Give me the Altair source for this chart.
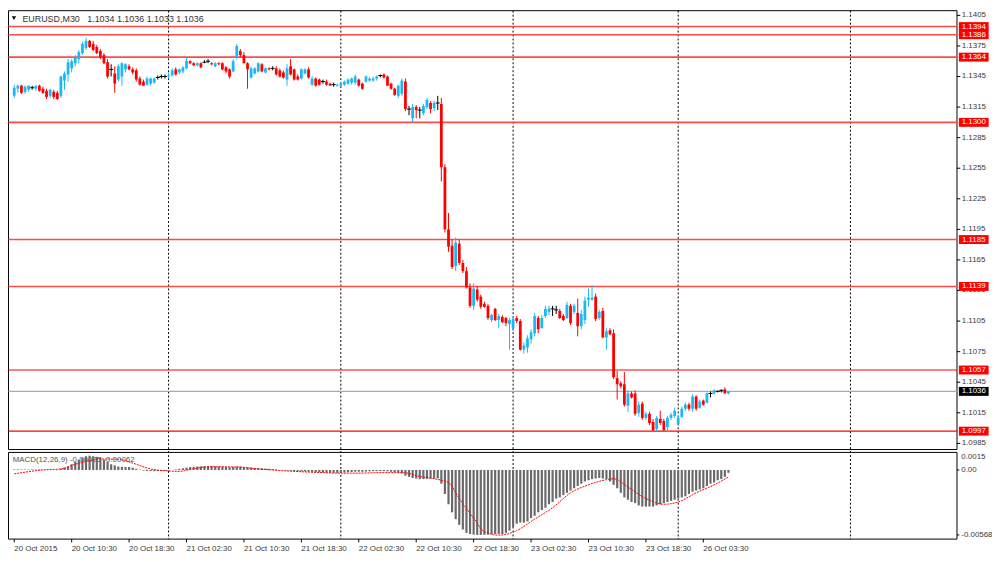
import altair as alt
import pandas as pd

# ---------------- data ----------------
OPEN = [
    1.1326, 1.1333, 1.1336, 1.1330, 1.1332, 1.1334, 1.1333, 1.1336, 1.1333, 1.1331,
    1.1326, 1.1330, 1.1329, 1.1326, 1.1341, 1.1347, 1.1353, 1.1358, 1.1362, 1.1368,
    1.1373, 1.1380, 1.1377, 1.1374, 1.1370, 1.1366, 1.1359, 1.1352, 1.1348, 1.1342,
    1.1345, 1.1352, 1.1355, 1.1352, 1.1351, 1.1343, 1.1340, 1.1337, 1.1338, 1.1339,
    1.1344, 1.1345, 1.1345, 1.1345, 1.1346, 1.1352, 1.1349, 1.1350, 1.1353, 1.1360,
    1.1358, 1.1356, 1.1358, 1.1359, 1.1360, 1.1358, 1.1355, 1.1358, 1.1358, 1.1354,
    1.1352, 1.1350, 1.1364, 1.1370, 1.1366, 1.1358, 1.1344, 1.1348, 1.1350, 1.1357,
    1.1349, 1.1353, 1.1353, 1.1353, 1.1351, 1.1349, 1.1342, 1.1355, 1.1352, 1.1345,
    1.1343, 1.1348, 1.1352, 1.1337, 1.1343, 1.1342, 1.1340, 1.1340, 1.1338, 1.1337,
    1.1336, 1.1336, 1.1337, 1.1338, 1.1339, 1.1339, 1.1342, 1.1338, 1.1340, 1.1341,
    1.1341, 1.1343, 1.1346, 1.1347, 1.1345, 1.1338, 1.1333, 1.1326, 1.1328, 1.1340,
    1.1313, 1.1304, 1.1315, 1.1312, 1.1309, 1.1315, 1.1319, 1.1314, 1.1319, 1.1318,
    1.1256, 1.1195, 1.1179, 1.1159, 1.1181, 1.1162, 1.1154, 1.1138, 1.1120, 1.1136,
    1.1129, 1.1122, 1.1120, 1.1106, 1.1117, 1.1106, 1.1109, 1.1108, 1.1102, 1.1098,
    1.1108, 1.1105, 1.1077, 1.1079, 1.1087, 1.1093, 1.1108, 1.1098, 1.1110, 1.1114,
    1.1117, 1.1116, 1.1115, 1.1110, 1.1108, 1.1120, 1.1114, 1.1113, 1.1100, 1.1106,
    1.1126, 1.1126, 1.1129, 1.1108, 1.1115, 1.1089, 1.1096, 1.1093, 1.1049, 1.1044,
    1.1043, 1.1022, 1.1034, 1.1034, 1.1015, 1.1024, 1.1010, 1.1014, 1.1006, 1.0999,
    1.1009, 1.1007, 1.1001, 1.1010, 1.1012, 1.1004, 1.1011, 1.1019, 1.1023, 1.1019,
    1.1031, 1.1020, 1.1027, 1.1025, 1.1034, 1.1034, 1.1036, 1.1037, 1.1038, 1.1034,
]
HIGH = [
    1.1337, 1.1337, 1.1337, 1.1336, 1.1336, 1.1336, 1.1336, 1.1337, 1.1335, 1.1333,
    1.1333, 1.1332, 1.1331, 1.1346, 1.1350, 1.1362, 1.1362, 1.1366, 1.1371, 1.1379,
    1.1383, 1.1381, 1.1380, 1.1376, 1.1372, 1.1368, 1.1362, 1.1357, 1.1355, 1.1357,
    1.1359, 1.1358, 1.1357, 1.1354, 1.1353, 1.1345, 1.1342, 1.1345, 1.1344, 1.1344,
    1.1346, 1.1347, 1.1347, 1.1349, 1.1353, 1.1354, 1.1353, 1.1355, 1.1364, 1.1361,
    1.1359, 1.1359, 1.1359, 1.1361, 1.1362, 1.1359, 1.1359, 1.1359, 1.1359, 1.1355,
    1.1353, 1.1362, 1.1377, 1.1372, 1.1369, 1.1359, 1.1355, 1.1354, 1.1359, 1.1358,
    1.1354, 1.1354, 1.1355, 1.1355, 1.1353, 1.1351, 1.1357, 1.1362, 1.1353, 1.1347,
    1.1353, 1.1353, 1.1354, 1.1345, 1.1344, 1.1343, 1.1342, 1.1342, 1.1339, 1.1339,
    1.1338, 1.1339, 1.1341, 1.1343, 1.1344, 1.1347, 1.1343, 1.1339, 1.1346, 1.1344,
    1.1345, 1.1346, 1.1347, 1.1348, 1.1346, 1.1339, 1.1334, 1.1337, 1.1343, 1.1343,
    1.1316, 1.1318, 1.1317, 1.1315, 1.1318, 1.1324, 1.1321, 1.1321, 1.1326, 1.1324,
    1.1259, 1.1211, 1.1185, 1.1187, 1.1185, 1.1165, 1.1158, 1.1142, 1.1142, 1.1139,
    1.1131, 1.1124, 1.1122, 1.1112, 1.1118, 1.1112, 1.1111, 1.1109, 1.1108, 1.1110,
    1.1110, 1.1107, 1.1084, 1.1091, 1.1097, 1.1113, 1.1110, 1.1111, 1.1120, 1.1120,
    1.1120, 1.1120, 1.1117, 1.1112, 1.1124, 1.1122, 1.1122, 1.1127, 1.1116, 1.1129,
    1.1137, 1.1140, 1.1132, 1.1116, 1.1118, 1.1098, 1.1098, 1.1097, 1.1056, 1.1046,
    1.1055, 1.1037, 1.1036, 1.1037, 1.1026, 1.1026, 1.1016, 1.1016, 1.1009, 1.1012,
    1.1017, 1.1009, 1.1012, 1.1015, 1.1020, 1.1012, 1.1021, 1.1025, 1.1025, 1.1033,
    1.1032, 1.1028, 1.1028, 1.1035, 1.1036, 1.1038, 1.1037, 1.1038, 1.1040, 1.1036,
]
LOW = [
    1.1324, 1.1329, 1.1328, 1.1328, 1.1330, 1.1332, 1.1331, 1.1330, 1.1328, 1.1323,
    1.1324, 1.1323, 1.1322, 1.1324, 1.1332, 1.1340, 1.1349, 1.1355, 1.1358, 1.1366,
    1.1371, 1.1373, 1.1370, 1.1367, 1.1362, 1.1357, 1.1343, 1.1345, 1.1329, 1.1340,
    1.1336, 1.1349, 1.1351, 1.1347, 1.1340, 1.1336, 1.1336, 1.1336, 1.1336, 1.1338,
    1.1342, 1.1343, 1.1343, 1.1343, 1.1345, 1.1346, 1.1347, 1.1348, 1.1352, 1.1357,
    1.1355, 1.1355, 1.1353, 1.1358, 1.1358, 1.1356, 1.1354, 1.1356, 1.1351, 1.1348,
    1.1343, 1.1349, 1.1362, 1.1364, 1.1358, 1.1333, 1.1343, 1.1347, 1.1349, 1.1349,
    1.1348, 1.1351, 1.1351, 1.1346, 1.1344, 1.1343, 1.1336, 1.1346, 1.1341, 1.1341,
    1.1342, 1.1347, 1.1343, 1.1336, 1.1335, 1.1336, 1.1338, 1.1336, 1.1336, 1.1335,
    1.1335, 1.1335, 1.1336, 1.1337, 1.1337, 1.1337, 1.1335, 1.1332, 1.1339, 1.1340,
    1.1340, 1.1341, 1.1344, 1.1343, 1.1336, 1.1332, 1.1326, 1.1324, 1.1326, 1.1311,
    1.1307, 1.1300, 1.1304, 1.1304, 1.1307, 1.1313, 1.1309, 1.1311, 1.1312, 1.1242,
    1.1192, 1.1173, 1.1156, 1.1154, 1.1160, 1.1152, 1.1137, 1.1118, 1.1116, 1.1124,
    1.1117, 1.1118, 1.1106, 1.1104, 1.1105, 1.1098, 1.1103, 1.1100, 1.1077, 1.1095,
    1.1103, 1.1076, 1.1073, 1.1074, 1.1083, 1.1090, 1.1093, 1.1098, 1.1108, 1.1111,
    1.1110, 1.1112, 1.1107, 1.1105, 1.1107, 1.1101, 1.1112, 1.1090, 1.1097, 1.1102,
    1.1119, 1.1125, 1.1105, 1.1106, 1.1088, 1.1077, 1.1091, 1.1048, 1.1028, 1.1039,
    1.1021, 1.1016, 1.1029, 1.1012, 1.1011, 1.1008, 1.1008, 1.1003, 1.0997, 1.0997,
    1.1003, 1.0997, 1.0996, 1.1008, 1.1010, 1.1002, 1.1010, 1.1017, 1.1017, 1.1016,
    1.1017, 1.1019, 1.1022, 1.1024, 1.1030, 1.1033, 1.1035, 1.1035, 1.1034, 1.1033,
]
CLOSE = [
    1.1334, 1.1336, 1.1329, 1.1335, 1.1336, 1.1334, 1.1336, 1.1331, 1.1329, 1.1325,
    1.1332, 1.1325, 1.1323, 1.1345, 1.1348, 1.1359, 1.1360, 1.1364, 1.1369, 1.1377,
    1.1380, 1.1374, 1.1371, 1.1368, 1.1364, 1.1358, 1.1345, 1.1352, 1.1338, 1.1355,
    1.1358, 1.1357, 1.1352, 1.1349, 1.1342, 1.1337, 1.1336, 1.1343, 1.1343, 1.1343,
    1.1344, 1.1345, 1.1345, 1.1346, 1.1351, 1.1347, 1.1352, 1.1354, 1.1360, 1.1358,
    1.1356, 1.1358, 1.1354, 1.1359, 1.1360, 1.1357, 1.1358, 1.1357, 1.1352, 1.1350,
    1.1345, 1.1360, 1.1375, 1.1366, 1.1358, 1.1352, 1.1353, 1.1353, 1.1358, 1.1350,
    1.1353, 1.1352, 1.1353, 1.1347, 1.1345, 1.1344, 1.1353, 1.1347, 1.1342, 1.1342,
    1.1352, 1.1352, 1.1344, 1.1343, 1.1336, 1.1337, 1.1340, 1.1337, 1.1336, 1.1337,
    1.1337, 1.1338, 1.1340, 1.1342, 1.1343, 1.1345, 1.1336, 1.1333, 1.1345, 1.1343,
    1.1343, 1.1345, 1.1346, 1.1344, 1.1336, 1.1333, 1.1327, 1.1336, 1.1341, 1.1313,
    1.1313, 1.1315, 1.1312, 1.1312, 1.1316, 1.1322, 1.1313, 1.1319, 1.1319, 1.1256,
    1.1195, 1.1178, 1.1158, 1.1182, 1.1162, 1.1154, 1.1138, 1.1120, 1.1137, 1.1126,
    1.1119, 1.1119, 1.1108, 1.1111, 1.1106, 1.1110, 1.1104, 1.1103, 1.1106, 1.1107,
    1.1105, 1.1077, 1.1081, 1.1088, 1.1094, 1.1110, 1.1097, 1.1108, 1.1117, 1.1117,
    1.1117, 1.1116, 1.1108, 1.1106, 1.1121, 1.1103, 1.1120, 1.1100, 1.1112, 1.1125,
    1.1128, 1.1128, 1.1107, 1.1114, 1.1089, 1.1095, 1.1092, 1.1050, 1.1043, 1.1041,
    1.1023, 1.1034, 1.1030, 1.1014, 1.1023, 1.1010, 1.1014, 1.1005, 1.0998, 1.1010,
    1.1005, 1.0998, 1.1010, 1.1013, 1.1017, 1.1010, 1.1019, 1.1023, 1.1019, 1.1031,
    1.1019, 1.1026, 1.1023, 1.1034, 1.1034, 1.1037, 1.1036, 1.1037, 1.1034, 1.1036,
]
MACD_HIST = [
    0.00005, 0.00005, 0.00004, 0.00004, 0.00004, 0.00004, 0.00003, 0.00003, 0.00002, 0.00001,
    0.0, 0.0, -0.00002,
    0.0001, 0.0002, 0.0003, 0.0005, 0.0007, 0.0009, 0.00105, 0.0012, 0.00125, 0.0012,
    0.00115, 0.0011, 0.0009, 0.0007, 0.0005, 0.0004, 0.0003, 0.00028, 0.00026, 0.00025,
    0.0002, 0.0001, 0.00003, -0.00005, -0.0001, -0.0001, -0.0001, -0.0001, -0.0001, -0.00008,
    -0.00005,
    0.0, 0.00005, 0.0001, 0.00015, 0.0002, 0.00025, 0.00028,
    0.0003, 0.00032, 0.00034, 0.00035, 0.00034, 0.00032, 0.0003, 0.00028, 0.00026, 0.00024,
    0.00026, 0.0003, 0.0003, 0.00026,
    0.00022, 0.0002, 0.00018, 0.00016, 0.00014, 0.00012, 0.0001, 0.00008, 0.00005,
    0.0, -0.00003, -0.00005, -0.00008, -0.0001, -0.00012, -0.00012, -0.00013, -0.00015, -0.00017,
    -0.0002, -0.0002, -0.00022, -0.00024, -0.00025, -0.00025, -0.00025, -0.00024,
    -0.00022, -0.0002, -0.00018, -0.00015, -0.00015, -0.00016, -0.00014, -0.00012, -0.0001, -0.0001,
    -0.0001, -0.0001, -0.00012, -0.00016, -0.0002,
    -0.00025, -0.0003, -0.0005, -0.0006, -0.0007, -0.00075, -0.0008, -0.0008, -0.00078, -0.00076,
    -0.00075, -0.00074,
    -0.0012, -0.0021, -0.0030, -0.0037, -0.0043, -0.0048, -0.0052, -0.0055, -0.0056, -0.00565,
    -0.00568, -0.00568, -0.00567, -0.00565, -0.0056, -0.0056, -0.0056, -0.0056, -0.0055, -0.0053,
    -0.0050, -0.0047, -0.0046, -0.0046, -0.0045,
    -0.0042, -0.0040, -0.0037, -0.0035, -0.0033, -0.0030, -0.0028,
    -0.0025, -0.0024, -0.0022, -0.0020, -0.0018, -0.0016,
    -0.0014, -0.0012, -0.0010, -0.0009, -0.0008, -0.00075, -0.0007, -0.00075, -0.0008, -0.0010,
    -0.0013, -0.0016, -0.0020, -0.0024, -0.0026, -0.0028, -0.0029, -0.0031, -0.0032, -0.0032,
    -0.0032, -0.0032,
    -0.0031, -0.0030, -0.0029, -0.0028, -0.0027, -0.0026, -0.0025, -0.0024, -0.0023, -0.0021,
    -0.0019, -0.0018, -0.0017, -0.0016, -0.0014, -0.0012, -0.0011, -0.0009, -0.0008, -0.0006,
    -0.00025,
]
SIGNAL_IDX = [0, 8, 13, 17, 21, 24, 29, 33, 38, 43, 46, 50, 55, 62, 68, 76, 85, 91, 95, 103,
              109, 112, 117, 121, 124, 128, 131, 135, 140, 145, 150, 155, 160, 165, 167, 171,
              176, 181, 185, 190, 195, 199]
SIGNAL_VAL = [-0.00034, 0.0, 0.00009, 0.0005, 0.0008, 0.00096, 0.00094, 0.0006, 0.00009, -0.00009,
              -0.00012, 0.00011, 0.00028, 0.00026, 0.00009, -0.00009, -0.00022, -0.00028, -0.00028,
              -0.00023, -0.00025, -0.0005, -0.00077, -0.0011, -0.0025, -0.0042, -0.0054, -0.0057,
              -0.0053, -0.0043, -0.0033, -0.0020, -0.0013, -0.00085, -0.00077, -0.0015, -0.0025,
              -0.0030, -0.0028, -0.0020, -0.0013, -0.00062]

LEVELS = [1.1394, 1.1386, 1.1364, 1.1300, 1.1185, 1.1139, 1.1057, 1.0997]
LEVEL_LABELS = ["1.1394", "1.1386", "1.1364", "1.1300", "1.1185", "1.1139", "1.1057", "1.0997"]
LEVEL_BOLD = [True, True, True, True, True, True, False, False]
BID = [1.1036]
BID_LABEL = ["1.1036"]
PRICE_TICKS = [1.1405, 1.1375, 1.1345, 1.1315, 1.1285, 1.1255, 1.1225, 1.1195, 1.1165,
               1.1135, 1.1105, 1.1075, 1.1045, 1.1015, 1.0985]
PRICE_TICK_LABELS = ["1.1405", "1.1375", "1.1345", "1.1315", "1.1285", "1.1255", "1.1225",
                     "1.1195", "1.1165", "1.1135", "1.1105", "1.1075", "1.1045", "1.1015", "1.0985"]
DATE_IDX = [0, 16, 32, 48, 64, 80, 96, 112, 128, 144, 160, 176, 192]
DATE_LABELS = ["20 Oct 2015", "20 Oct 10:30", "20 Oct 18:30", "21 Oct 02:30", "21 Oct 10:30",
               "21 Oct 18:30", "22 Oct 02:30", "22 Oct 10:30", "22 Oct 18:30", "23 Oct 02:30",
               "23 Oct 10:30", "23 Oct 18:30", "26 Oct 03:30"]
DAY_SEPARATORS = [43, 91, 139, 185, 233]
MACD_TOP_TICK = [0.0015]
MACD_TOP_LABEL = ["0.0015"]
MACD_TICKS = [0.0, -0.00568]
MACD_TICK_LABELS = ["0.00", "-0.00568"]
TITLE = "EURUSD,M30\u00a0\u00a0 1.1034 1.1036 1.1033 1.1036"
MACD_TITLE = "MACD(12,26,9) -0.00025 -0.00062"

assert len(OPEN) == len(HIGH) == len(LOW) == len(CLOSE) == len(MACD_HIST) == 200, (
    len(OPEN), len(HIGH), len(LOW), len(CLOSE), len(MACD_HIST))

# ---------------- tables ----------------
n = len(OPEN)
candles = pd.DataFrame({"i": range(n), "o": OPEN, "h": HIGH, "l": LOW, "c": CLOSE})
candles["dir"] = [
    "up" if c > o else ("down" if c < o else "flat") for o, c in zip(OPEN, CLOSE)
]
macd = pd.DataFrame({"i": range(n), "v": MACD_HIST, "zero": [0.0] * n})
signal = pd.DataFrame({"i": SIGNAL_IDX, "s": SIGNAL_VAL})
levels = pd.DataFrame({"p": LEVELS, "t": LEVEL_LABELS, "bold": LEVEL_BOLD})
bid = pd.DataFrame({"p": BID, "t": BID_LABEL})
pticks = pd.DataFrame({"p": PRICE_TICKS, "t": PRICE_TICK_LABELS})
dates = pd.DataFrame({"i": DATE_IDX, "t": DATE_LABELS})
seps = pd.DataFrame({"i": DAY_SEPARATORS})
mtop = pd.DataFrame({"v": MACD_TOP_TICK, "t": MACD_TOP_LABEL})
mticks = pd.DataFrame({"v": MACD_TICKS, "t": MACD_TICK_LABELS})
one = pd.DataFrame({"k": [0]})

# ---------------- scales (pixel ranges of the two panes) ----------------
W, H = 992, 546
PANE_R = 956.7
MAIN_B = 442.9
MACD_T, MACD_B = 445.8, 533.2
XS = alt.Scale(domain=[0, 199], range=[1.29, 731.3], zero=False, nice=False)
PS = alt.Scale(domain=[1.0985, 1.1405], range=[436.7, 5.2], zero=False, nice=False)
MS = alt.Scale(domain=[-0.00568, 0.0], range=[529.0, 463.5], zero=False, nice=False)
COL = alt.Scale(domain=["up", "down", "flat"], range=["#1ab8f5", "#ff0000", "#000000"])
FONT = "Liberation Sans"
TXT = "#3a3a3a"

X = alt.X("i:Q", scale=XS, axis=None)
color = alt.Color("dir:N", scale=COL, legend=None)

frames = alt.layer(
    alt.Chart(one).mark_rect(fill="white", stroke="black", strokeWidth=1).encode(
        x=alt.value(0.5), x2=alt.value(PANE_R), y=alt.value(0.5), y2=alt.value(MAIN_B)),
    alt.Chart(one).mark_rect(fill="white", stroke="black", strokeWidth=1).encode(
        x=alt.value(0.5), x2=alt.value(PANE_R), y=alt.value(MACD_T), y2=alt.value(MACD_B)),
)

separators = alt.Chart(seps).mark_rule(color="black", strokeDash=[2, 2], strokeWidth=1).encode(
    x=X, y=alt.value(0.5), y2=alt.value(MACD_B))

macd_title = alt.Chart(one).mark_text(
    text=MACD_TITLE, align="left", baseline="middle", font=FONT, fontSize=8, color="#555555"
).encode(x=alt.value(4.7), y=alt.value(453.5))

hist = alt.Chart(macd).mark_bar(width=2.2, color="#6a6a6a").encode(
    x=X, y=alt.Y("v:Q", scale=MS, axis=None), y2="zero:Q")

sig = alt.Chart(signal).mark_line(
    color="#ff0000", strokeWidth=1, strokeDash=[2, 1], interpolate="monotone"
).encode(x=X, y=alt.Y("s:Q", scale=MS, axis=None))

lv_bold = alt.Chart(levels).transform_filter("datum.bold").mark_rule(
    color="#ff4a4a", strokeWidth=1.6).encode(
    x=alt.value(0.5), x2=alt.value(PANE_R), y=alt.Y("p:Q", scale=PS, axis=None))
lv_thin = alt.Chart(levels).transform_filter("!datum.bold").mark_rule(
    color="#ff0000", strokeWidth=1.1).encode(
    x=alt.value(0.5), x2=alt.value(PANE_R), y=alt.Y("p:Q", scale=PS, axis=None))
bid_line = alt.Chart(bid).mark_rule(color="#a3adb8", strokeWidth=1.2).encode(
    x=alt.value(0.5), x2=alt.value(PANE_R), y=alt.Y("p:Q", scale=PS, axis=None))

wicks = alt.Chart(candles).mark_rule(strokeWidth=1).encode(
    x=X, y=alt.Y("l:Q", scale=PS, axis=None), y2="h:Q", color=color)
bodies = alt.Chart(candles).transform_filter("datum.dir != 'flat'").mark_bar(width=2.8).encode(
    x=X, y=alt.Y("o:Q", scale=PS, axis=None), y2="c:Q", color=color)
dojis = alt.Chart(candles).transform_filter("datum.dir == 'flat'").mark_tick(
    orient="horizontal", size=4, thickness=1, opacity=1, color="black").encode(
    x=X, y=alt.Y("o:Q", scale=PS, axis=None))

price_ticks = alt.Chart(pticks).mark_rule(color="black").encode(
    x=alt.value(PANE_R), x2=alt.value(960), y=alt.Y("p:Q", scale=PS, axis=None))
price_labels = alt.Chart(pticks).mark_text(
    align="left", baseline="middle", font=FONT, fontSize=8, color=TXT).encode(
    x=alt.value(961.5), y=alt.Y("p:Q", scale=PS, axis=None), text="t:N")

lv_box = alt.Chart(levels).mark_tick(
    orient="horizontal", size=30, thickness=9, opacity=1, color="#ff0000").encode(
    x=alt.value(973.6), y=alt.Y("p:Q", scale=PS, axis=None))
lv_text = alt.Chart(levels).mark_text(
    align="center", baseline="middle", font=FONT, fontSize=8, color="white").encode(
    x=alt.value(973.6), y=alt.Y("p:Q", scale=PS, axis=None), text="t:N")
bid_box = alt.Chart(bid).mark_tick(
    orient="horizontal", size=30, thickness=9, opacity=1, color="black").encode(
    x=alt.value(973.6), y=alt.Y("p:Q", scale=PS, axis=None))
bid_text = alt.Chart(bid).mark_text(
    align="center", baseline="middle", font=FONT, fontSize=8, color="white").encode(
    x=alt.value(973.6), y=alt.Y("p:Q", scale=PS, axis=None), text="t:N")

macd_tick_marks = alt.Chart(mticks).mark_rule(color="black").encode(
    x=alt.value(PANE_R), x2=alt.value(959), y=alt.Y("v:Q", scale=MS, axis=None))
macd_labels = alt.Chart(mticks).mark_text(
    align="left", baseline="middle", font=FONT, fontSize=8, color=TXT).encode(
    x=alt.value(961), y=alt.Y("v:Q", scale=MS, axis=None), text="t:N")
macd_top = alt.Chart(mtop).mark_text(
    align="left", baseline="top", font=FONT, fontSize=8, color=TXT).encode(
    x=alt.value(961), y=alt.Y("v:Q", scale=MS, axis=None), text="t:N")

date_ticks = alt.Chart(dates).mark_rule(color="black").encode(
    x=X, y=alt.value(MACD_B), y2=alt.value(536.5))
date_labels = alt.Chart(dates).mark_text(
    align="left", baseline="alphabetic", font=FONT, fontSize=8, color=TXT).encode(
    x=X, y=alt.value(545), text="t:N")

tri = alt.Chart(one).mark_point(
    shape="triangle-down", filled=True, size=18, color="black", opacity=1).encode(
    x=alt.value(6), y=alt.value(8))
title = alt.Chart(one).mark_text(
    text=TITLE, align="left", baseline="middle", font=FONT, fontSize=9, color="#333333"
).encode(x=alt.value(14.5), y=alt.value(8.4))

chart = alt.layer(
    frames, separators, macd_title, hist, sig,
    lv_bold, lv_thin, bid_line,
    wicks, bodies, dojis,
    price_ticks, price_labels, lv_box, lv_text, bid_box, bid_text,
    macd_tick_marks, macd_labels, macd_top,
    date_ticks, date_labels, tri, title,
).resolve_scale(y="independent").properties(
    width=W, height=H,
    autosize=alt.AutoSizeParams(type="none"),
    padding=0,
    background="white",
).configure_view(stroke=None)

chart.save("out.html", embed_options={"renderer": "svg", "actions": False})
